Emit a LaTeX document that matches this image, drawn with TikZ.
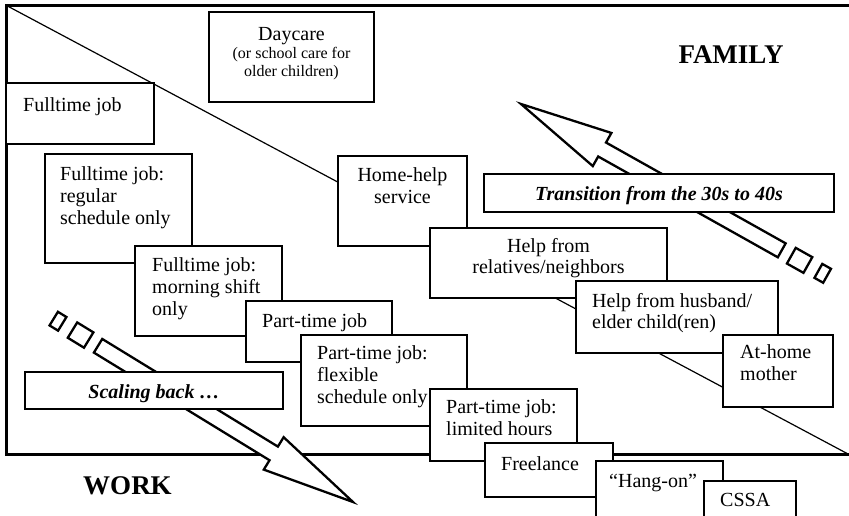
\documentclass[tikz,border=0pt]{standalone}
\usepackage{fontspec}
\setmainfont{Liberation Serif}
\usepackage{tikz}

\begin{document}
\begin{tikzpicture}[x=1pt,y=-1pt,
  outline/.style={line width=3.2pt},
  jobbox/.style={fill=white,draw=black,line width=1.5pt},
  bigarrow/.style={fill=white,draw=black,line width=2.3pt,line join=miter},
  txt/.style={inner sep=0pt,anchor=north west,yshift=15.19pt,align=left,
    font=\fontsize{20}{21.7}\selectfont,execute at begin node=\strut},
  ctxt/.style={txt,anchor=north,align=center},
  banner/.style={inner sep=0pt,anchor=base,font=\fontsize{20}{22}\selectfont\bfseries\itshape},
  side/.style={inner sep=0pt,anchor=base,font=\fontsize{27}{30}\selectfont\bfseries}]
\useasboundingbox (0,0) rectangle (849,515);
\clip (0,0) rectangle (849,515);

\draw[outline](852,5.5)--(6.5,5.5)--(6.5,454.5)--(852,454.5);
\draw[line width=1.2pt](6.5,5.5)--(849,454.5);

\begin{scope}[shift={(521,104)},rotate=-29.3]
\filldraw[bigarrow](0,0)--(93,-19)--(93,-8)--(299,-8)--(299,8)--(93,8)--(93,19)--cycle;
\filldraw[bigarrow](310,-9) rectangle (329,9);
\filldraw[bigarrow](341,-8) rectangle (351,8);
\end{scope}
\begin{scope}[shift={(353,502)},rotate=148.5]
\filldraw[bigarrow](0,0)--(93,-19)--(93,-8)--(299,-8)--(299,8)--(93,8)--(93,19)--cycle;
\filldraw[bigarrow](310,-9) rectangle (329,9);
\filldraw[bigarrow](341,-8) rectangle (351,8);
\end{scope}

\filldraw[jobbox](209,12) rectangle (374,102);
\node[ctxt,font=\fontsize{16}{17.5}\selectfont] (daycare) at (291.5,40)
  {{\fontsize{20}{21.7}\selectfont\strut Daycare}\\(or school care for\\older children)};

\filldraw[jobbox](6.5,83) rectangle (154,144);
\node[txt] (fulltime) at (23,111) {Fulltime job};
\filldraw[jobbox](45,154) rectangle (192,263);
\node[txt] (ftregular) at (60,182) {Fulltime job:\\regular\\schedule only};
\filldraw[jobbox](135,246) rectangle (282,336);
\node[txt] (ftmorning) at (152,273) {Fulltime job:\\morning shift\\only};
\filldraw[jobbox](246,301) rectangle (392,362);
\node[txt] (parttime) at (262,327) {Part-time job};
\filldraw[jobbox](301,335) rectangle (467,426);
\node[txt] (ptflexible) at (317,361) {Part-time job:\\flexible\\schedule only};
\filldraw[jobbox](430,389) rectangle (577,461);
\node[txt] (ptlimited) at (446,415) {Part-time job:\\limited hours};
\filldraw[jobbox](485,443) rectangle (613,497);
\node[txt] (freelance) at (501,470) {Freelance};
\filldraw[jobbox](596,461) rectangle (723,520);
\node[txt] (hangon) at (609,487) {“Hang-on”};
\filldraw[jobbox](704,481) rectangle (796,520);
\node[txt] (cssa) at (720,506) {CSSA};

\filldraw[jobbox](338,156) rectangle (467,246);
\node[ctxt] (homehelp) at (402.5,183) {Home-help\\service};
\filldraw[jobbox](430,228) rectangle (667,298);
\node[ctxt] (relatives) at (548.5,253) {Help from\\relatives/neighbors};
\filldraw[jobbox](576,281) rectangle (778,353);
\node[txt] (husband) at (592,308) {Help from husband/\\elder child(ren)};
\filldraw[jobbox](723,335) rectangle (833,407);
\node[txt] (athome) at (740,360) {At-home\\mother};

\filldraw[jobbox](484,174) rectangle (834,212);
\node[banner] (transition) at (659,200) {Transition from the 30s to 40s};
\filldraw[jobbox](25,372) rectangle (283,409);
\node[banner] (scaling) at (154,398) {Scaling back …};

\node[side] (family) at (731,63) {FAMILY};
\node[side] (work) at (127.5,494) {WORK};
\end{tikzpicture}
\end{document}
